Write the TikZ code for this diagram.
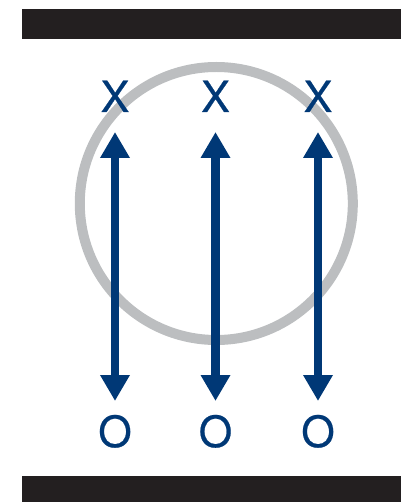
\documentclass[tikz,border=0pt]{standalone}
\usepackage{fontspec}
\setmainfont{TeX Gyre Heros}
\newfontfamily\lblfont[FakeBold=0.5]{TeX Gyre Heros}
\usetikzlibrary{arrows.meta}
\definecolor{navy}{HTML}{003876}
\definecolor{ringgray}{HTML}{BCBEC0}
\definecolor{barblack}{HTML}{231F20}
\begin{document}
\begin{tikzpicture}[x=1pt,y=-1pt,
  lbl/.style={text=navy, font=\lblfont\fontsize{43}{43}\selectfont, inner sep=0pt, anchor=base},
  fieldarrow/.style={draw=navy, line width=8.5pt,
    {Triangle[width=28pt,length=26pt]}-{Triangle[width=28pt,length=26pt]}},
  bar/.style={fill=barblack}]
\useasboundingbox (0,0) rectangle (401,502);
\fill[bar] (22,9) rectangle (401,39);
\fill[bar] (22,476) rectangle (401,502);
\draw[ringgray, line width=10pt] (216.3,203.5) circle (136.5);
\node[lbl] (x1) at (115,112) {X};
\node[lbl] (x2) at (215.5,112) {X};
\node[lbl] (x3) at (318,112) {X};
\node[lbl] (o1) at (115,447) {O};
\node[lbl] (o2) at (215.5,447) {O};
\node[lbl] (o3) at (318,447) {O};
\coordinate (t1) at (115,132); \coordinate (b1) at (115,401);
\coordinate (t2) at (215.5,132); \coordinate (b2) at (215.5,401);
\coordinate (t3) at (318,132); \coordinate (b3) at (318,401);
\draw[fieldarrow] (t1) -- (b1);
\draw[fieldarrow] (t2) -- (b2);
\draw[fieldarrow] (t3) -- (b3);
\end{tikzpicture}
\end{document}
